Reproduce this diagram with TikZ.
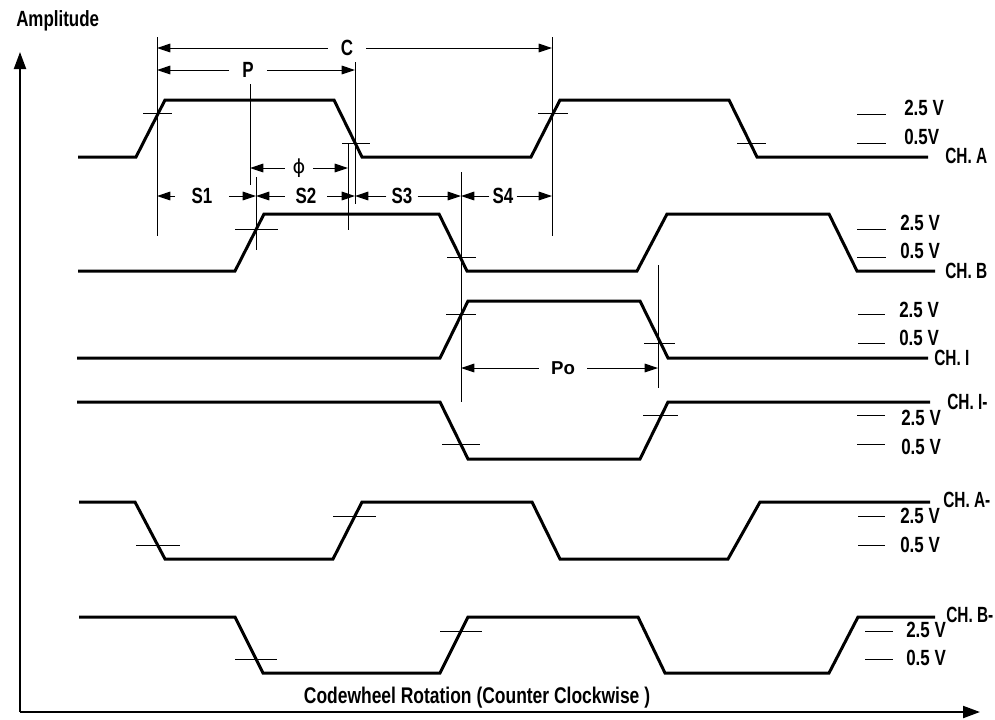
\documentclass[tikz,border=0pt]{standalone}
\usepackage{fontspec}
\setmainfont{Liberation Sans}[FakeStretch=0.77]
\newfontfamily\chfont{Liberation Sans}[FakeStretch=0.7]
\newfontfamily\pofont{Liberation Sans}
\newfontfamily\phifont{DejaVu Sans}
\usepackage{amsmath}
\usepackage{tikz}
\usetikzlibrary{arrows.meta}

\begin{document}
\begin{tikzpicture}[x=0.75pt,y=0.75pt,yscale=-1,xscale=1,
        wave/.style={line width=2.25pt},
        thinline/.style={line width=0.75pt},
        axis/.style={line width=1.5pt,-{Triangle[length=12.75pt,width=9pt]}},
        dimarrow/.style={line width=0.75pt,-{Triangle[length=10pt,width=6.5pt]}},
        lbl/.style={inner sep=0.75pt,font=\bfseries\fontsize{16.5}{19}\selectfont},
        chlbl/.style={inner sep=0.75pt,font=\chfont\bfseries\fontsize{16.5}{19}\selectfont},
        dimlbl/.style={lbl,inner xsep=0pt}]
        \useasboundingbox (0,0) rectangle (995,719);
        %Straight Lines: axes
        \draw [axis]   (20,712) -- (20,52) ;
        \draw [axis]   (20,712) -- (980,712) ;
        % Text Node
        \draw (15,26) node (amp) [anchor=base west][lbl]  {Amplitude};
        % Text Node
        \draw (477,703) node (rot) [anchor=base][lbl][font=\bfseries\fontsize{17}{20}\selectfont]  {Codewheel Rotation (Counter Clockwise )};

        %Shape: CH. A
        \draw [wave]   (78,157) -- (136,157) -- (165,100) -- (334,100) -- (362,157) -- (531,157) -- (560,100) -- (729,100) -- (757,157) -- (928,157) ;
        \draw [thinline]   (143,113) -- (172,113) (342,143) -- (370,143) (538,113) -- (568,113) (737,143) -- (766,143) ;
        \draw [thinline]   (857,114) -- (886,114) (857,143) -- (886,143) ;
        \draw (903,115) node (a25) [anchor=base west][lbl]  {2.5 V};
        \draw (903,144) node (a05) [anchor=base west][lbl]  {0.5V};
        \draw (944,163) node (cha) [anchor=base west][chlbl]  {CH. A};

        %Shape: CH. B
        \draw [wave]   (78,271) -- (235,271) -- (264,214) -- (439,214) -- (467,271) -- (637,271) -- (667,214) -- (829,214) -- (857,271) -- (935,271) ;
        \draw [thinline]   (235,229) -- (278,229) (447,257) -- (476,257) ;
        \draw [thinline]   (857,229) -- (886,229) (857,257) -- (886,257) ;
        \draw (899,230) node (b25) [anchor=base west][lbl]  {2.5 V};
        \draw (899,258) node (b05) [anchor=base west][lbl]  {0.5 V};
        \draw (944,278) node (chb) [anchor=base west][chlbl]  {CH. B};

        %Shape: CH. I
        \draw [wave]   (77,358) -- (440,358) -- (468,301) -- (640,301) -- (668,358) -- (928,358) ;
        \draw [thinline]   (446,314) -- (476,314) (644,343) -- (675,343) ;
        \draw [thinline]   (858,314) -- (885,314) (858,343) -- (885,343) ;
        \draw (898,317) node (i25) [anchor=base west][lbl]  {2.5 V};
        \draw (898,345) node (i05) [anchor=base west][lbl]  {0.5 V};
        \draw (933,365) node (chi) [anchor=base west][chlbl]  {CH. I};

        %Shape: CH. I-
        \draw [wave]   (77,402) -- (440,402) -- (468,459) -- (640,459) -- (668,402) -- (930,402) ;
        \draw [thinline]   (442,444) -- (480,444) (643,415) -- (678,415) ;
        \draw [thinline]   (857,415) -- (885,415) (857,444) -- (885,444) ;
        \draw (900,425) node (in25) [anchor=base west][lbl]  {2.5 V};
        \draw (900,454) node (in05) [anchor=base west][lbl]  {0.5 V};
        \draw (946,409) node (chin) [anchor=base west][chlbl]  {CH. I-};

        %Shape: CH. A-
        \draw [wave]   (79,502) -- (135,502) -- (165,559) -- (333,559) -- (362,502) -- (532,502) -- (560,559) -- (728,559) -- (760,502) -- (930,502) ;
        \draw [thinline]   (136,545) -- (180,545) (333,516) -- (376,516) ;
        \draw [thinline]   (858,516) -- (885,516) (858,545) -- (885,545) ;
        \draw (899,523) node (an25) [anchor=base west][lbl]  {2.5 V};
        \draw (899,552) node (an05) [anchor=base west][lbl]  {0.5 V};
        \draw (942,507) node (chan) [anchor=base west][chlbl]  {CH. A-};

        %Shape: CH. B-
        \draw [wave]   (79,617) -- (235,617) -- (263,673) -- (440,673) -- (468,617) -- (638,617) -- (665,673) -- (829,673) -- (858,617) -- (935,617) ;
        \draw [thinline]   (235,659) -- (277,659) (440,631) -- (482,631) ;
        \draw [thinline]   (865,631) -- (893,631) (865,659) -- (893,659) ;
        \draw (905,637) node (bn25) [anchor=base west][lbl]  {2.5 V};
        \draw (905,665) node (bn05) [anchor=base west][lbl]  {0.5 V};
        \draw (945,622) node (chbn) [anchor=base west][chlbl]  {CH. B-};

        %Straight Lines: extension lines
        \draw [thinline]   (157,37) -- (157,236) ;
        \draw [thinline]   (355,62) -- (355,204) ;
        \draw [thinline]   (552,37) -- (552,236) ;
        \draw [thinline]   (250,84) -- (250,185) ;
        \draw [thinline]   (256,177) -- (256,250) ;
        \draw [thinline]   (348,143) -- (348,230) ;
        \draw [thinline]   (461,172) -- (461,402) ;
        \draw [thinline]   (658,265) -- (658,388) ;

        %Dimension C
        \coordinate (cL) at (157,48) ;
        \coordinate (cR) at (552,48) ;
        \draw (347,48) node (C) [dimlbl,minimum width=28.5pt]  {C};
        \draw [dimarrow]   (C) -- (cL) ;
        \draw [dimarrow]   (C) -- (cR) ;
        %Dimension P
        \coordinate (pL) at (157,70) ;
        \coordinate (pR) at (355,70) ;
        \draw (248,70) node (P) [dimlbl,minimum width=27.75pt]  {P};
        \draw [dimarrow]   (P) -- (pL) ;
        \draw [dimarrow]   (P) -- (pR) ;
        %Dimension phi
        \coordinate (fL) at (250,168) ;
        \coordinate (fR) at (348,168) ;
        \draw (299,168) node (phi) [inner sep=0pt,minimum width=21pt,font=\phifont\fontsize{14.5}{16}\selectfont]  {ϕ};
        \draw [dimarrow]   (phi) -- (fL) ;
        \draw [dimarrow]   (phi) -- (fR) ;
        %Dimension S1 to S4
        \coordinate (s0) at (157,196) ;
        \coordinate (s1) at (256,196) ;
        \coordinate (s2) at (355,196) ;
        \coordinate (s3) at (461,196) ;
        \coordinate (s4) at (552,196) ;
        \draw (202,196) node (S1) [dimlbl,minimum width=39.75pt]  {S1};
        \draw (306,196) node (S2) [dimlbl,minimum width=31.5pt]  {S2};
        \draw (402,196) node (S3) [dimlbl,minimum width=23pt]  {S3};
        \draw (503,196) node (S4) [dimlbl,minimum width=20pt]  {S4};
        \draw [dimarrow]   (S1) -- (s0) ;
        \draw [dimarrow]   (S1) -- (s1) ;
        \draw [dimarrow]   (S2) -- (s1) ;
        \draw [dimarrow]   (S2) -- (s2) ;
        \draw [dimarrow]   (S3) -- (s2) ;
        \draw [dimarrow]   (S3) -- (s3) ;
        \draw [dimarrow]   (S4) -- (s3) ;
        \draw [dimarrow]   (S4) -- (s4) ;
        %Dimension Po
        \coordinate (poL) at (461,368) ;
        \coordinate (poR) at (658,368) ;
        \draw (563,368) node (Po) [inner sep=0pt,minimum width=36pt,font=\pofont\bfseries\fontsize{14}{16}\selectfont]  {Po};
        \draw [dimarrow]   (Po) -- (poL) ;
        \draw [dimarrow]   (Po) -- (poR) ;
\end{tikzpicture}
\end{document}
